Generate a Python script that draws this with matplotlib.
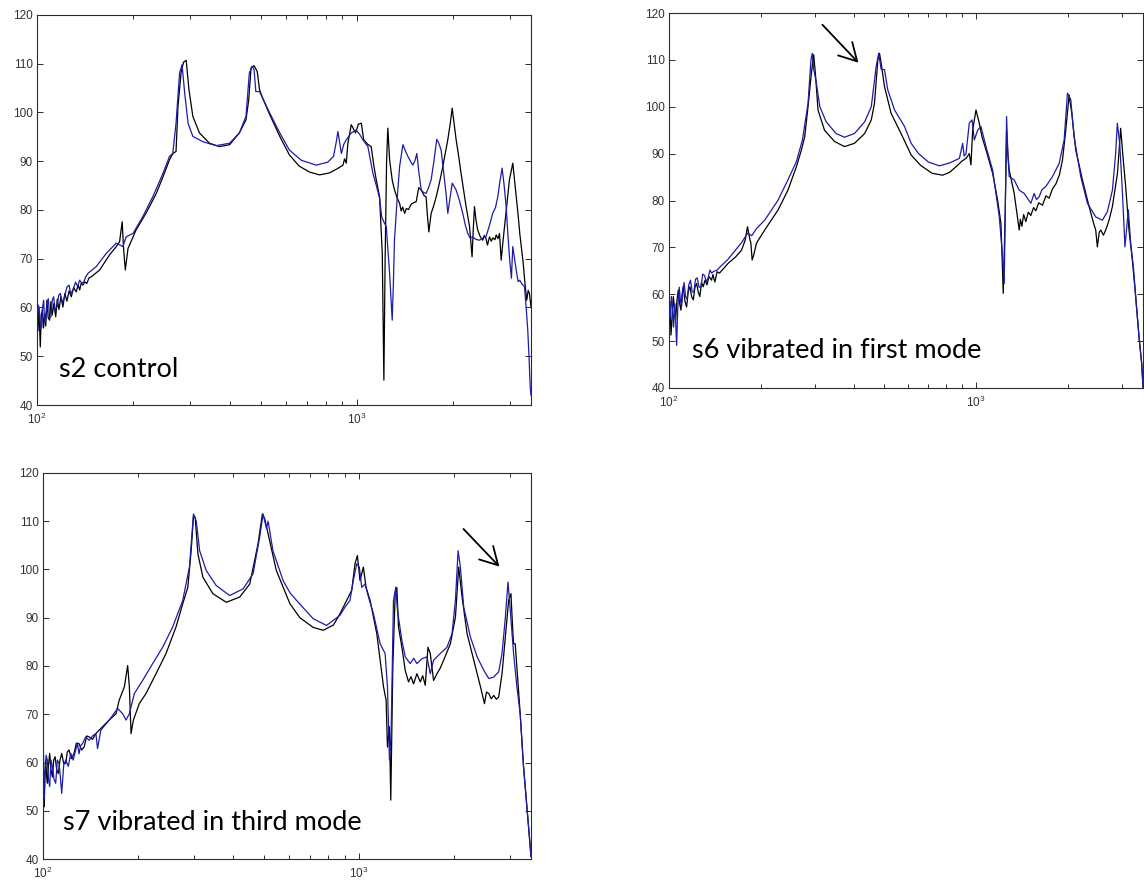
import matplotlib

matplotlib.use("Agg")
import matplotlib.pyplot as plt
import numpy as np
from matplotlib.ticker import FixedLocator, NullFormatter

# (frequency Hz, level dB)
S2_BLACK = [
    (100, 57.4), (100.7, 55.2), (101.4, 60.1), (102.4, 51.9), (103.1, 58.3), (103.9, 59.5),
    (104.8, 55.8), (105.7, 58.7), (106.5, 56.2), (107.4, 61.5), (108.4, 57.9), (109.5, 57.4),
    (110.5, 61.2), (111.6, 58.5), (112.9, 60.8), (114.4, 58.1), (115.7, 61.7), (117.1, 59.6),
    (118.8, 62.2), (120.5, 60.1), (122.2, 62.9), (124, 61.3), (126, 63.4), (128, 62.2),
    (130.2, 64.1), (132.6, 63.2), (134.5, 64.6), (136, 63.6), (137.5, 65), (139.2, 64.6),
    (141, 65.3), (143, 64.9), (145.5, 66.1), (147.8, 66.3),
    (157, 67.7), (168.6, 70.8), (176.9, 72.5), (181.2, 73.5), (184.6, 77.6), (186.5, 72),
    (188.8, 67.7), (192.5, 72.1), (204, 75.9), (219, 79.3), (236, 83.4), (247.6, 86.8),
    (259.5, 90.3), (266, 91.6), (272, 92), (275.8, 101.2), (282, 108.1), (287, 110.3),
    (292.6, 110.7), (298.5, 104.7), (307, 99.2), (322, 95.8), (346, 93.7), (372, 93),
    (400, 93.4), (429, 95.8), (450, 98.5), (459, 102.6), (466.7, 109.1), (477, 109.6),
    (488, 108.4), (496, 104.7), (507, 103), (531, 99.9), (574, 95.1), (615, 91.3),
    (660, 89), (710, 87.8), (764, 87.2), (820, 87.6), (870, 88.5), (904, 89.2),
    (915, 90.5), (926, 89.6), (937, 93.7), (960, 97.5), (990, 95.8), (1010, 97.6),
    (1032, 97.8), (1050, 94.4), (1080, 93.5), (1108, 93), (1130, 89), (1149, 86.2),
    (1177, 82.7), (1200, 71.1), (1214, 45.1), (1225, 70), (1238, 90), (1249, 96.8),
    (1265, 90.3), (1290, 86), (1311, 84.1), (1335, 82.5), (1359, 81.4), (1375, 79.8),
    (1390, 80.6), (1410, 79.3), (1426, 80.3), (1450, 80.1), (1478, 81.2), (1505, 81.5),
    (1532, 81.7), (1560, 84.6), (1588, 84.1), (1620, 83), (1645, 82.7), (1660, 79),
    (1678, 75.5), (1706, 79.3), (1740, 81), (1769, 82.7), (1810, 85.5), (1855, 88.9),
    (1923, 94.4), (1960, 98), (1985, 100.9), (2010, 98), (2042, 94.4), (2080, 91),
    (2116, 87.5), (2155, 84), (2194, 80.7), (2249, 76.6), (2290, 70.4), (2310, 76),
    (2330, 80.7), (2355, 78), (2385, 75.9), (2430, 74.5), (2472, 73.8), (2500, 74.8),
    (2530, 74.2), (2560, 72.8), (2596, 74.5), (2630, 73.6), (2660, 74.3), (2700, 73.9),
    (2725, 74.9), (2760, 74.1), (2790, 75.2), (2824, 69.7), (2855, 73), (2893, 76.6),
    (2950, 82), (2997, 86.2), (3070, 89.6), (3110, 86), (3147, 82.7), (3190, 79),
    (3228, 75.2), (3270, 72), (3310, 69), (3350, 65), (3394, 61.5), (3430, 63.5),
    (3460, 62.9), (3500, 60.1),
]
S2_BLUE = [
    (100, 55.3), (100.9, 60.5), (101.9, 58.8), (102.6, 55.5), (103.4, 56), (104.1, 60),
    (104.9, 61.5), (105.6, 57), (106.4, 57.4), (107.4, 61), (108.5, 61.8), (109.5, 58),
    (110.6, 58.1), (111.6, 61.5), (112.7, 62.2), (114, 59.5), (115.5, 60.1), (116.9, 62.5),
    (118.3, 62.9), (120, 61), (122, 62.2), (124, 64.2), (125.9, 64.6), (127.6, 62.8),
    (129.5, 63.6), (132, 65.2), (134, 64.3), (135.9, 65.6), (138, 65), (140, 65.2),
    (142, 66.3), (144.3, 67), (153.2, 68.4),
    (164.6, 71.1), (176.9, 73.2), (185.5, 72.5), (190, 74.5), (199.6, 75.2), (214, 78.6),
    (230, 82.7), (247.6, 87.5), (259.5, 91), (265.7, 91.6), (272, 97.8), (279, 108.1),
    (284, 109.8), (289.5, 104), (296.6, 97.8), (307, 95.1), (330, 94), (363, 93.2),
    (400, 93.7), (429, 95.8), (450, 99.2), (461, 108.1), (470, 109.5), (477, 108.8),
    (483, 104.3), (496, 104.3), (507, 103), (531, 100.2), (574, 95.8), (615, 92.3),
    (670, 90.2), (746, 89.2), (810, 89.8), (845, 91), (862, 94), (872, 96.1),
    (882, 94), (894, 91.6), (910, 93.5), (926, 94.4), (960, 95.8), (995, 96.4),
    (1020, 95.5), (1044, 94.4), (1082, 93), (1122, 87.5), (1150, 85), (1177, 82.4),
    (1195, 78.6), (1215, 77.5), (1235, 76.6), (1265, 67), (1289, 57.4), (1300, 65),
    (1310, 73.8), (1335, 82.1), (1360, 89), (1392, 93.4), (1420, 92), (1443, 91),
    (1470, 90), (1495, 89.2), (1520, 90.2), (1539, 91.6), (1560, 88), (1588, 84.1),
    (1615, 83.6), (1645, 83.4), (1675, 84.6), (1706, 86.2), (1740, 90), (1776, 94.5),
    (1800, 93.8), (1833, 92.3), (1865, 88), (1899, 83.4), (1923, 79.3), (1955, 82.5),
    (1985, 85.5), (2042, 84.1), (2090, 82), (2142, 79.3), (2180, 77), (2220, 75.2),
    (2260, 74.2), (2300, 74.5), (2350, 74), (2414, 73.8), (2470, 74.2), (2531, 74.5),
    (2600, 77), (2656, 79.3), (2710, 80.5), (2756, 82.7), (2800, 86), (2843, 88.6),
    (2885, 85), (2927, 80.7), (2960, 75.5), (2997, 70.4), (3040, 66), (3070, 72.5),
    (3110, 70), (3150, 67.5), (3190, 65.3), (3228, 65.6), (3280, 64.8), (3339, 64.3),
    (3380, 60), (3419, 55.4), (3450, 50), (3480, 43.7), (3500, 42),
]

S6_BLACK = [
    (100, 55.9), (100.7, 58.5), (101.5, 51.3), (102.4, 55), (103.3, 59.5), (104.2, 57),
    (105.1, 54.5), (106.1, 58.5), (107.2, 60.9), (108.3, 58), (109.4, 56.6), (110.3, 60),
    (111.3, 61.6), (112.7, 58.5), (114.1, 57.3), (115.5, 60.5), (117, 61.6), (118.5, 59.5),
    (120, 58.8), (121.5, 61.5), (123, 62.3), (124.5, 60.5), (126, 59.5), (127.7, 62.5),
    (129.3, 61.6), (131, 63), (133, 62), (135, 63.8), (137.6, 63), (139, 64.2),
    (141, 62.6), (143.5, 64.8), (146, 64.5), (155.9, 66.6),
    (165, 68), (172.3, 69.4), (177, 71.5), (180.2, 74.4), (183, 72), (184.8, 70.9),
    (186.6, 67.3), (189, 68.5), (192.7, 70.9), (205, 73.7), (226.7, 78), (244, 82.2),
    (260, 87.2), (270, 90.8), (276.7, 93.6), (283.7, 100), (291, 107.2), (296, 111.1),
    (299.7, 107.2), (305.8, 99.3), (321, 95), (346, 92.6), (373, 91.5), (402, 92.2),
    (434, 94.3), (456, 97.2), (467, 100.7), (479, 110), (485, 111.4), (491, 109.3),
    (503.5, 104.3), (529, 98.6), (570, 94.3), (615, 89.7), (660, 87.5), (720, 85.8),
    (779, 85.4), (820, 86), (861, 87.2), (900, 88.4), (928, 89), (951, 90),
    (963, 87.6), (975.4, 95), (1000, 99.3), (1025, 96.5), (1046, 93.6), (1078, 90.8),
    (1133, 85.8), (1176, 80.1), (1206, 75.1), (1227, 60.2), (1245, 77.2), (1258, 95),
    (1270, 90), (1283, 86.5), (1332, 81.5), (1383, 73.7), (1395, 76), (1411, 74.5),
    (1430, 77), (1454, 75.5), (1480, 77.5), (1509, 76.8), (1540, 78.5), (1567, 77.8),
    (1600, 79.5), (1647, 79), (1690, 81), (1731, 80.5), (1775, 82.5), (1820, 83.5),
    (1870, 85.5), (1913, 88.6), (1961, 95), (2011, 102.5), (2051, 98.6), (2113, 90.8),
    (2222, 84.4), (2336, 78.7), (2420, 75), (2455, 73.7), (2485, 70.1), (2520, 73.2),
    (2549, 73.7), (2600, 72.6), (2646, 73.7), (2713, 75.8), (2782, 78.7), (2890, 85.8),
    (2960, 95.4), (3012, 89.4), (3073, 83), (3151, 73.7), (3231, 67.3), (3313, 59.5),
    (3397, 50.9), (3466, 45.2), (3500, 40.2),
]
S6_BLUE = [
    (100, 60.5), (100.6, 57), (101.2, 55), (101.8, 59.5), (102.5, 58), (103, 55.5),
    (103.5, 53), (104.5, 58), (105.9, 49.1), (106.8, 57), (107.4, 59.5), (108, 61.5),
    (109, 58.5), (110, 57.5), (111, 61), (112, 62.5), (113.2, 59.5), (114.5, 59),
    (116, 62), (117.5, 63), (119, 60.5), (120.5, 60.5), (122, 63.2), (123.5, 63.5),
    (125.3, 61.5), (127, 61.5), (128.8, 64.3), (130.5, 64), (132.3, 62.7), (134, 63.4),
    (136, 65.2), (137.6, 64.5), (140, 64.9), (143, 65.1), (146, 65.7),
    (155.9, 67.5), (165, 69.5), (172.3, 71), (180.2, 73), (186, 72.5), (192.7, 74),
    (205, 75.8), (226.7, 80.1), (244, 84.4), (260, 88.3), (272, 92.9), (283.7, 100.7),
    (290, 110), (293, 111.4), (296, 108), (301, 105.7), (310, 100), (325, 96.8),
    (350, 94.3), (373, 93.5), (402, 94.3), (434, 96.8), (456, 100), (473, 108.6),
    (482, 111.4), (491, 108), (503.5, 107.9), (516, 103.6), (543, 99.3), (585, 95.8),
    (615, 92.2), (650, 90), (700, 88.2), (760, 87.4), (820, 88), (883, 89),
    (905, 92.2), (915, 89.5), (928, 90), (951, 96.5), (971, 97.2), (987.6, 92.9),
    (1012.6, 95), (1038, 95.8), (1078, 91.5), (1133, 86.5), (1191, 76.5), (1221, 68),
    (1236, 62.3), (1247, 80), (1258, 97.9), (1270, 90), (1283, 85.1), (1332, 84.4),
    (1383, 82.2), (1436, 81.5), (1470, 80.5), (1509, 79.4), (1547, 81.5), (1575, 80.2),
    (1606, 80.8), (1640, 82.3), (1689, 83), (1775, 85.1), (1866, 87.9), (1937, 92.9),
    (1986, 102.9), (2036, 101.5), (2087, 93.6), (2194, 85.1), (2307, 79.4), (2455, 76.5),
    (2581, 75.8), (2679, 77.6), (2782, 82.2), (2851, 90), (2887, 96.5), (2938, 92.2),
    (2997, 82.2), (3057, 70.1), (3135, 78), (3191, 70.9), (3260, 65.5), (3313, 59.5),
    (3397, 50.9), (3466, 45.2), (3500, 40.2),
]

S7_BLACK = [
    (100, 50), (100.4, 58), (100.7, 50.8), (101.3, 57), (102, 60.5), (102.6, 57.5),
    (103.2, 55.7), (104.1, 59.5), (105, 61.9), (106, 58.5), (107.1, 57), (108.1, 60.5),
    (109.2, 61.2), (110.5, 58.5), (111.8, 57.7), (113.2, 60.5), (114.6, 61.9), (116.3, 59.8),
    (118, 59.8), (119.4, 62.2), (120.9, 62.6), (123, 60.8), (125.4, 61.9), (127.5, 64),
    (130.1, 63.9), (132.5, 62.6), (134.9, 63.2), (137.5, 65.5), (140, 65.3), (143.5, 64.8),
    (147, 66), (154.2, 67.4), (162, 68.8),
    (170.2, 70.1), (174.2, 72.9), (180.9, 75.7), (185.3, 80.1), (187.6, 75.7), (189.9, 66),
    (193.2, 68.8), (201.7, 72.2), (211.8, 74.3), (227.8, 78.4), (245.1, 82.6), (263.6, 88.1),
    (276.8, 92.9), (287.2, 96.3), (294.3, 103.9), (299.4, 111.2), (303, 110.8), (309.2, 103.2),
    (320.6, 98.4), (344.6, 95), (380.3, 93.2), (419.4, 94.3), (451, 97), (479, 105.3),
    (494.5, 111.5), (503, 110.5), (515.5, 107.4), (547.3, 99.8), (604.3, 92.9), (650, 90),
    (716, 88), (770, 87.4), (830, 88.5), (870, 90.8), (914, 93.6), (948, 95.7),
    (971, 101.2), (988, 102.9), (1007, 97.7), (1032, 100.5), (1052, 96.3), (1084, 93.6),
    (1138, 86.7), (1166, 81.2), (1195, 75.7), (1218, 72.9), (1230, 63.2), (1248, 67.4),
    (1260, 52.2), (1279, 79.8), (1301, 95), (1317, 96.3), (1333, 88.1), (1366, 83.9),
    (1400, 79.1), (1434, 76.7), (1460, 77.8), (1488, 76.3), (1524, 78.4), (1562, 76.7),
    (1590, 78), (1620, 76), (1652, 83.9), (1680, 82.6), (1721, 77), (1764, 78.4),
    (1808, 79.6), (1852, 81.2), (1945, 84.6), (2018, 90.1), (2067, 100.5), (2118, 94.3),
    (2197, 86.7), (2307, 81.2), (2422, 75.7), (2494, 72.2), (2530, 74.6), (2573, 74.3),
    (2620, 73.2), (2667, 73.9), (2720, 73.1), (2766, 73.6), (2834, 78.4), (2904, 86),
    (2974, 93.6), (3024, 95), (3068, 86.7), (3083, 84.6), (3120, 84.6), (3158, 79.8),
    (3235, 70.1), (3315, 59.1), (3397, 50.8), (3481, 42.6), (3500, 40.5),
]
S7_BLUE = [
    (100, 66), (100.5, 60), (101, 52.5), (101.5, 57), (102.3, 61.5), (103.2, 60.5),
    (104.1, 56.5), (105, 55), (106, 60.5), (107.1, 59.1), (108.4, 56.5), (109.7, 55.7),
    (111, 60.5), (112.4, 59.8), (113.5, 57), (114.6, 53.6), (116.3, 59.5), (118, 60.5),
    (120.2, 59.2), (122.4, 61.9), (124.6, 60.5), (126.9, 62.6), (128.5, 64), (130, 61.8),
    (131.6, 63.5), (133.3, 63.9), (136.5, 65.3), (140, 64.6), (143.5, 65.5), (147, 66),
    (148.8, 62.9), (152.4, 66.7), (162, 68.8),
    (172.3, 71.2), (178.7, 70.1), (183.1, 68.8), (187.6, 70.1), (194.6, 74.3), (206.6, 77),
    (222.3, 80.5), (239.2, 83.9), (257.3, 88.1), (276.8, 93.6), (290.6, 100.5), (299.4, 111.5),
    (305.5, 110), (313, 103.9), (328.4, 99.8), (353, 96.7), (389.6, 94.6), (429.8, 96),
    (462, 99.1), (484.8, 106.7), (497, 111.5), (509.2, 108.5), (515.5, 110), (534, 103.9),
    (575.1, 97.7), (604.3, 95.2), (634, 93.6), (716, 89.8), (789, 88.4), (870, 90.5),
    (903, 92.2), (936, 93.6), (959, 97.7), (983, 101.2), (1002, 100.5), (1020, 96.3),
    (1045, 97), (1071, 94.3), (1111, 90.8), (1166, 84.6), (1209, 82.6), (1230, 75.7),
    (1248, 60.5), (1263, 66), (1285, 93.6), (1307, 96.3), (1323, 91.5), (1366, 85.3),
    (1400, 81.9), (1452, 80.5), (1490, 81.6), (1524, 80.5), (1581, 81.5), (1640, 81.9),
    (1680, 78.4), (1721, 81.2), (1808, 82.6), (1898, 83.9), (1969, 86.7), (2018, 93.6),
    (2058, 103.9), (2092, 100.5), (2144, 92.2), (2251, 86), (2364, 81.9), (2482, 79.1),
    (2573, 77.4), (2667, 77.7), (2766, 78.8), (2834, 82.6), (2904, 90.1), (2960, 97.4),
    (3010, 91.5), (3083, 82.6), (3158, 75.7), (3235, 70.1), (3315, 59.1), (3397, 50.8),
    (3481, 42.6), (3500, 40.5),
]

LABELS = ["s2 control", "s6 vibrated in first mode", "s7 vibrated in third mode"]
Y_TICKS = [40, 50, 60, 70, 80, 90, 100, 110, 120]

BLUE = "#1c1ca8"
AXIS_COLOR = "#2b2b2b"
W, H = 1144, 882


def px_box(left, top, right, bottom):
    return [left / W, 1 - bottom / H, (right - left) / W, (bottom - top) / H]


def style_axes(ax):
    ax.set_xscale("log")
    ax.set_xlim(100, 3500)
    ax.set_ylim(40, 120)
    ax.set_yticks(Y_TICKS)
    ax.set_yticklabels([str(v) for v in Y_TICKS])
    ax.xaxis.set_major_locator(FixedLocator([100, 1000]))
    ax.set_xticklabels([r"$\mathregular{10^{2}}$", r"$\mathregular{10^{3}}$"])
    minors = [m * d for d in (100, 1000) for m in range(2, 10) if m * d < 3500]
    ax.xaxis.set_minor_locator(FixedLocator(minors))
    ax.xaxis.set_minor_formatter(NullFormatter())
    ax.tick_params(which="both", direction="in", top=True, right=True,
                   colors=AXIS_COLOR, labelcolor="#333333", labelsize=8.5, width=0.7)
    ax.tick_params(which="major", length=4.5)
    ax.tick_params(which="minor", length=3)
    ax.tick_params(axis="y", pad=3)
    ax.tick_params(axis="x", pad=5)
    for spine in ax.spines.values():
        spine.set_color(AXIS_COLOR)
        spine.set_linewidth(0.8)


def draw_panel(ax, black, blue, label, text_pos):
    fb, vb = np.array(black).T
    fu, vu = np.array(blue).T
    ax.plot(fb, vb, color="black", lw=0.9)
    ax.plot(fu, vu, color=BLUE, lw=0.9)
    style_axes(ax)
    ax.text(text_pos[0], text_pos[1], label, transform=ax.transAxes,
            fontsize=19.5, family=["Lato", "DejaVu Sans"], va="baseline", ha="left")


def add_arrow(ax, tail, head):
    ax.annotate("", xy=head, xytext=tail,
                arrowprops=dict(arrowstyle="->,head_length=1.25,head_width=0.7",
                                color="black", lw=1.3, shrinkA=0, shrinkB=0))


def main():
    plt.rcParams["font.family"] = ["Liberation Sans", "DejaVu Sans"]
    fig = plt.figure(figsize=(W / 100, H / 100), dpi=100)
    fig.patch.set_facecolor("white")

    ax1 = fig.add_axes(px_box(37, 15, 531, 405))
    ax2 = fig.add_axes(px_box(669, 13, 1143, 388))
    ax3 = fig.add_axes(px_box(43, 473, 531, 859))

    draw_panel(ax1, S2_BLACK, S2_BLUE, LABELS[0], (0.0455, 0.072))
    draw_panel(ax2, S6_BLACK, S6_BLUE, LABELS[1], (0.0485, 0.08))
    draw_panel(ax3, S7_BLACK, S7_BLUE, LABELS[2], (0.041, 0.075))

    add_arrow(ax2, (316, 117.5), (414, 109.4))
    add_arrow(ax3, (2140, 108.4), (2780, 100.6))

    fig.savefig("out.png", dpi=100, facecolor="white")
    plt.close(fig)


if __name__ == "__main__":
    main()
